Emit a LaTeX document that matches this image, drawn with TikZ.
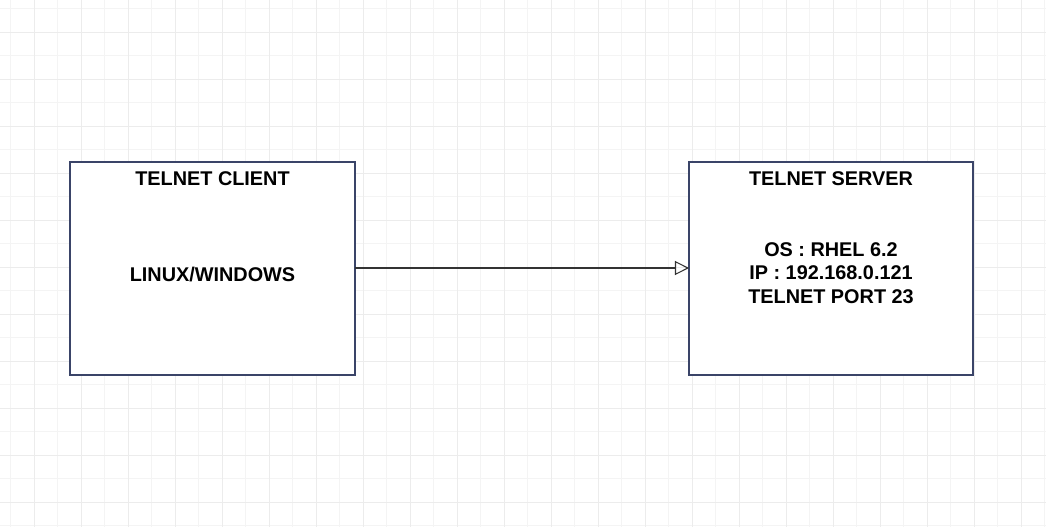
\documentclass[tikz,border=0pt]{standalone}
\usepackage{fontspec}
\setmainfont{Liberation Sans}
\usetikzlibrary{arrows.meta}
\definecolor{boxline}{HTML}{3A4468}
\tikzset{
  gridminor/.style={draw=gray!9, line width=0.4pt},
  gridmajor/.style={draw=gray!15, line width=0.5pt},
  box/.style={draw=boxline, line width=0.8pt, fill=white},
  title/.style={font=\bfseries\fontsize{11.3}{13}\selectfont, align=center},
  body/.style={font=\bfseries\fontsize{11.3}{13.3}\selectfont, align=center}
}
\begin{document}
\begin{tikzpicture}[x=0.02cm, y=-0.02cm]
\useasboundingbox (0,0) rectangle (1046,527);
\fill[white] (0,0) rectangle (1046,527);

%grid
\foreach \i in {0,...,44} {
  \pgfmathsetmacro{\gx}{10.5+23.5*\i}
  \draw[gridminor] (\gx,0) -- (\gx,527);
}
\foreach \j in {0,...,22} {
  \pgfmathsetmacro{\gy}{8.5+23.5*\j}
  \draw[gridminor] (0,\gy) -- (1046,\gy);
}
\foreach \i in {0,...,21} {
  \pgfmathsetmacro{\gx}{34+47*\i}
  \draw[gridmajor] (\gx,0) -- (\gx,527);
}
\foreach \j in {0,...,10} {
  \pgfmathsetmacro{\gy}{32+47*\j}
  \draw[gridmajor] (0,\gy) -- (1046,\gy);
}

%boxes
\draw[box] (70,162) rectangle (355,375);
\draw[box] (689,162) rectangle (973,375);
\coordinate (client) at (355,268);
\coordinate (server) at (689,268);

\node[title] (clienttitle) at (212.5,179) {TELNET CLIENT};
\node[body] (clientbody) at (212.5,275) {LINUX/WINDOWS};
\node[title] (servertitle) at (831,179) {TELNET SERVER};
\node[body] (serverbody) at (831,273) {OS : RHEL 6.2\\IP : 192.168.0.121\\TELNET PORT 23};

\draw[-{Triangle[open,length=8pt,width=8pt]}, black!80, line width=0.6pt] (client) -- (server);
\end{tikzpicture}
\end{document}
